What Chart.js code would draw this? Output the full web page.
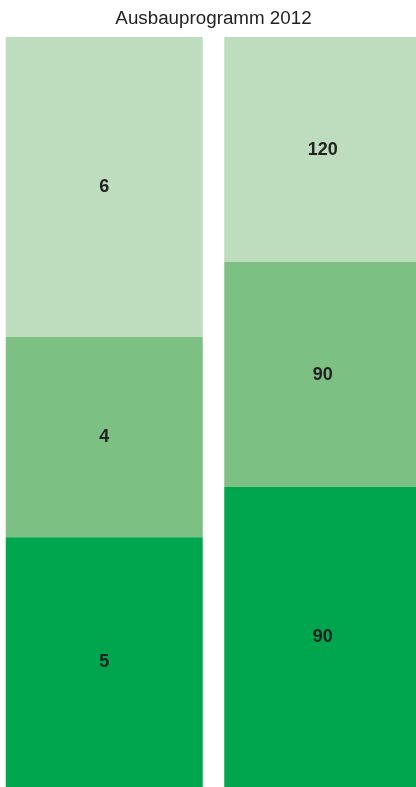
<!DOCTYPE html>
<html lang="de">
<head>
    <meta charset="UTF-8">
    <title>Ausbauprogramm 2012</title>
    <style>
        html, body {
            margin: 0;
            padding: 0;
            background: #fff;
            overflow: hidden;
        }

        #wrap {
            position: relative;
            margin-left: -5px;
            width: 437px;
            height: 787px;
        }
    </style>
</head>
<body>
    <div id="wrap"><canvas id="chart"></canvas></div>
    <script src="https://cdn.jsdelivr.net/npm/chart.js"></script>
    <script>
        // two columns, each stacked to 100 %
        const categories = ['Spalte 1', 'Spalte 2'];

        // segment heights as share of the column
        const shareBottom = [33.3, 40];
        const shareMiddle = [26.7, 30];
        const shareTop = [40, 30];

        // numbers printed inside the segments
        const labelBottom = [5, 90];
        const labelMiddle = [4, 90];
        const labelTop = [6, 120];

        const colors = ['#00a64e', '#7dc084', '#bedcbe'];

        // simple in-segment labels, no datalabels plugin available
        const segmentLabels = {
            id: 'segmentLabels',
            afterDatasetsDraw(chart) {
                const ctx = chart.ctx;
                ctx.save();
                ctx.font = 'bold 18px "Liberation Sans", Arial, sans-serif';
                ctx.fillStyle = '#222';
                ctx.textAlign = 'center';
                ctx.textBaseline = 'middle';
                chart.data.datasets.forEach((ds, i) => {
                    const meta = chart.getDatasetMeta(i);
                    meta.data.forEach((bar, j) => {
                        const mid = (bar.y + bar.base) / 2;
                        ctx.fillText(ds.valueLabels[j], bar.x, mid);
                    });
                });
                ctx.restore();
            }
        };

        new Chart(document.getElementById('chart'), {
            type: 'bar',
            data: {
                labels: categories,
                datasets: [
                    { data: shareBottom, valueLabels: labelBottom, backgroundColor: colors[0] },
                    { data: shareMiddle, valueLabels: labelMiddle, backgroundColor: colors[1] },
                    { data: shareTop, valueLabels: labelTop, backgroundColor: colors[2] }
                ]
            },
            options: {
                responsive: true,
                maintainAspectRatio: false,
                animation: false,
                layout: { padding: 0 },
                datasets: {
                    bar: {
                        categoryPercentage: 1,
                        barPercentage: 0.9016,
                        borderWidth: 0
                    }
                },
                scales: {
                    x: { stacked: true, display: false },
                    y: { stacked: true, display: false, min: 0, max: 100 }
                },
                plugins: {
                    legend: { display: false },
                    tooltip: { enabled: false },
                    title: {
                        display: true,
                        text: 'Ausbauprogramm 2012',
                        color: '#222',
                        font: { family: '"Liberation Sans", Arial, sans-serif', size: 18.8, weight: 'normal' },
                        padding: { top: 7.5, bottom: 7 }
                    }
                }
            },
            plugins: [segmentLabels]
        });
    </script>
</body>
</html>
